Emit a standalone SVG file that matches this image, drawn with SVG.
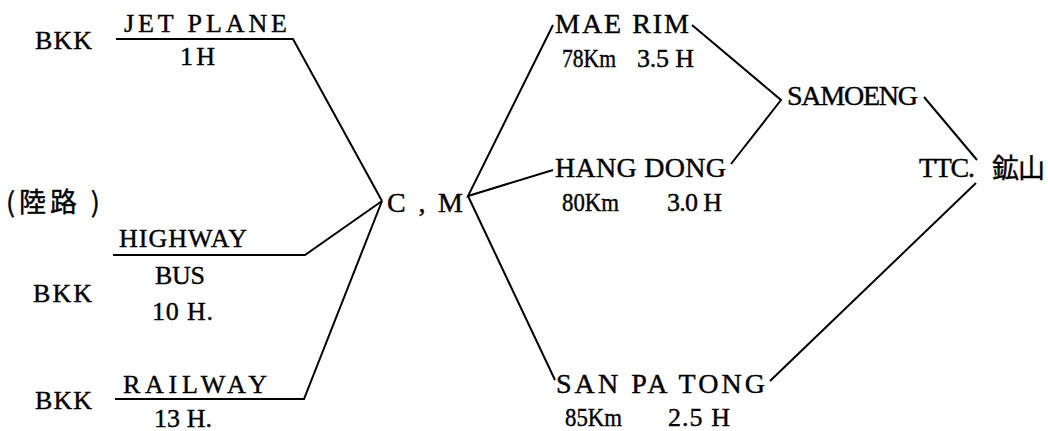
<svg xmlns="http://www.w3.org/2000/svg" width="1048" height="431" viewBox="0 0 1048 431">
<style>
.ln{fill:none;stroke:#000;stroke-width:2;stroke-linejoin:miter;}
.t{font-family:"Liberation Serif","DejaVu Serif",serif;fill:#000;stroke:#000;stroke-width:0.4;}
.j{font-family:"Noto Sans CJK JP",sans-serif;fill:#000;}
</style>
<rect width="1048" height="431" fill="#fff"/>
<g id="connectors">
<polyline class="ln" points="116,39 293,39 382,201"/>
<polyline class="ln" points="113,255 305,255 382,201"/>
<polyline class="ln" points="115,399 304,399 382,201"/>
<polyline class="ln" points="553,25 468,196 553,170"/>
<line class="ln" x1="468" y1="196" x2="555" y2="380"/>
<polyline class="ln" points="692,25 781,100 731,164"/>
<line class="ln" x1="924" y1="97" x2="977" y2="160"/>
<line class="ln" x1="976" y1="183" x2="770" y2="381"/>
</g>
<g class="t" font-size="26">
<g id="bkk-plane"><text x="35" y="49" textLength="57" lengthAdjust="spacing">BKK</text></g>
<g id="jet-plane"><text x="124" y="32" textLength="163" lengthAdjust="spacing">JET PLANE</text><text x="180" y="65" textLength="35" lengthAdjust="spacing">1H</text></g>
<g id="land"><text class="j" font-size="27" x="6" y="212" textLength="94" lengthAdjust="spacing">(陸路 )</text></g>
<g id="bkk-bus"><text x="33" y="302" textLength="59" lengthAdjust="spacing">BKK</text></g>
<g id="highway"><text x="119" y="247" textLength="128" lengthAdjust="spacing">HIGHWAY</text><text x="155" y="284" textLength="50" lengthAdjust="spacing">BUS</text><text x="152" y="320" textLength="61" lengthAdjust="spacing">10 H.</text></g>
<g id="bkk-rail"><text x="35" y="409" textLength="57" lengthAdjust="spacing">BKK</text></g>
<g id="railway"><text x="123" y="393" textLength="144" lengthAdjust="spacing">RAILWAY</text><text x="154" y="427" textLength="58" lengthAdjust="spacing">13 H.</text></g>
<g id="cm"><text font-size="28" x="387" y="212" textLength="76" lengthAdjust="spacing">C , M</text></g>
<g id="mae-rim"><text font-size="28" x="555" y="33" textLength="134" lengthAdjust="spacing">MAE RIM</text><text x="562" y="67" textLength="54" lengthAdjust="spacingAndGlyphs">78Km</text><text x="637" y="67" textLength="57" lengthAdjust="spacing">3.5 H</text></g>
<g id="hang-dong"><text font-size="28" x="555" y="177" textLength="171" lengthAdjust="spacing">HANG DONG</text><text x="562" y="211" textLength="57" lengthAdjust="spacingAndGlyphs">80Km</text><text x="667" y="211" textLength="55" lengthAdjust="spacing">3.0 H</text></g>
<g id="san-pa-tong"><text font-size="28" x="556" y="393" textLength="209" lengthAdjust="spacing">SAN PA TONG</text><text x="565" y="426" textLength="57" lengthAdjust="spacingAndGlyphs">85Km</text><text x="668" y="426" textLength="62" lengthAdjust="spacing">2.5 H</text></g>
<g id="samoeng"><text font-size="28" x="787" y="105" textLength="131" lengthAdjust="spacing">SAMOENG</text></g>
<g id="ttc"><text font-size="28" x="919" y="177" textLength="56" lengthAdjust="spacing">TTC.</text><text class="j" font-size="27" x="992" y="178" textLength="53" lengthAdjust="spacing">鉱山</text></g>
</g>
</svg>
